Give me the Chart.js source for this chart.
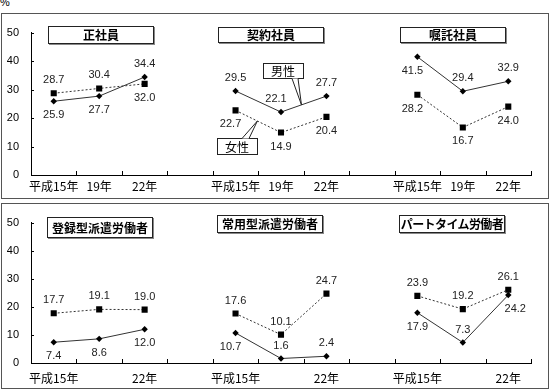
<!DOCTYPE html>
<html>
<head>
<meta charset="utf-8">
<script src="https://cdn.jsdelivr.net/npm/chart.js@4/dist/chart.umd.min.js"></script>
<style>
  body { margin: 0; width: 550px; height: 389px; background: #fff; position: relative; overflow: hidden; font-family: "Liberation Sans", Arial, sans-serif; }
  .panel { position: absolute; left: 1px; width: 546px; height: 184px; border: 1px solid #555; }
  .panel canvas { position: absolute; left: 0; top: 0; }
  .title { position: absolute; width: 104px; border: 1px solid #222; box-shadow: 1px 1px 0 #888; background: #fff; white-space: nowrap; overflow: hidden;
           font-family: "Noto Sans CJK JP", sans-serif; font-size: 12px; font-weight: bold; text-align: center; color: #000; }
  .title.long { letter-spacing: -0.6px; }
  #pct { position: absolute; left: 0; top: -4px; font-size: 11px; color: #000; }
</style>
</head>
<body>
<span id="pct">%</span>
<div class="panel" style="top:13px"><canvas id="topChart" width="546" height="184"></canvas></div>
<div class="panel" style="top:203px"><canvas id="bottomChart" width="546" height="184"></canvas></div>

<div class="title" style="left:48px;top:26px;height:16px;line-height:16px">正社員</div>
<div class="title" style="left:218px;top:27px;height:14px;line-height:14px">契約社員</div>
<div class="title" style="left:400px;top:27px;height:14px;line-height:14px">嘱託社員</div>
<div class="title" style="left:47px;top:217px;height:19px;line-height:19px">登録型派遣労働者</div>
<div class="title" style="left:217px;top:215px;height:16px;line-height:16px">常用型派遣労働者</div>
<div class="title long" style="left:399px;top:215px;height:16px;line-height:16px">パートタイム労働者</div>

<script>
const years = ['平成15年', '19年', '22年'];
const topGroups = ['正社員', '契約社員', '嘱託社員'];
const bottomGroups = ['登録型派遣労働者', '常用型派遣労働者', 'パートタイム労働者'];

const topMale = [25.9, 27.7, 34.4, 29.5, 22.1, 27.7, 41.5, 29.4, 32.9];
const topFemale = [28.7, 30.4, 32.0, 22.7, 14.9, 20.4, 28.2, 16.7, 24.0];
const bottomMale = [7.4, 8.6, 12.0, 10.7, 1.6, 2.4, 17.9, 7.3, 24.2];
const bottomFemale = [17.7, 19.1, 19.0, 17.6, 10.1, 24.7, 23.9, 19.2, 26.1];

const yTicks = [0, 10, 20, 30, 40, 50];

// where each value label sits: a = above, b = below, l/r = nudged left/right
const topMalePos = ['b', 'b', 'a', 'a', 'al', 'a', 'bl', 'a', 'a'];
const topFemalePos = ['a', 'a', 'b', 'bl', 'b', 'b', 'bl', 'b', 'b'];
const bottomMalePos = ['b', 'b', 'b', 'bl', 'a', 'a', 'b', 'a', 'br'];
const bottomFemalePos = ['a', 'a', 'a', 'a', 'a', 'a', 'a', 'a', 'a'];

// 3 groups of 3 years with an empty slot between groups
function spread(vals) {
    return [vals[0], vals[1], vals[2], null, vals[3], vals[4], vals[5], null, vals[6], vals[7], vals[8]];
}
const categories = spread(years.concat(years, years)).map(v => v || '');

const valueLabels = {
    id: 'valueLabels',
    afterDatasetsDraw(chart) {
        const ctx = chart.ctx;
        ctx.save();
        ctx.font = '11px "Liberation Sans", Arial, sans-serif';
        ctx.fillStyle = '#222';
        ctx.textAlign = 'center';
        ctx.textBaseline = 'middle';
        chart.data.datasets.forEach((ds, di) => {
            const meta = chart.getDatasetMeta(di);
            let k = 0;
            ds.data.forEach((v, i) => {
                if (v === null) return;
                const pos = ds.labelPos[k++];
                const pt = meta.data[i];
                let dy = pos[0] === 'a' ? -13 : 14;
                let dx = pos.includes('l') ? -5 : pos.includes('r') ? 7 : 0;
                ctx.fillText(v.toFixed(1), pt.x + dx, pt.y + dy);
            });
        });
        ctx.restore();
    }
};

const innerTicks = {
    id: 'innerTicks',
    afterDraw(chart) {
        const ctx = chart.ctx;
        const x = chart.scales.x, y = chart.scales.y;
        const a = chart.chartArea;
        const half = (x.getPixelForValue(1) - x.getPixelForValue(0)) / 2;
        ctx.save();
        ctx.strokeStyle = '#000';
        ctx.lineWidth = 1;
        ctx.beginPath();
        for (let i = 0; i < categories.length; i++) {
            const px = Math.round(x.getPixelForValue(i) + half) + 0.5;
            ctx.moveTo(px, a.bottom);
            ctx.lineTo(px, a.bottom - 4);
        }
        yTicks.forEach(t => {
            const py = Math.round(y.getPixelForValue(t)) + 0.5;
            ctx.moveTo(a.left, py);
            ctx.lineTo(a.left + 3, py);
        });
        ctx.stroke();
        ctx.restore();
    }
};

function drawCallout(ctx, text, box, base, tip) {
    ctx.save();
    ctx.strokeStyle = '#222';
    ctx.lineWidth = 1;
    ctx.fillStyle = '#999';
    ctx.fillRect(box[0] + 1, box[1] + 1, box[2], box[3]);
    ctx.fillStyle = '#fff';
    ctx.fillRect(box[0], box[1], box[2], box[3]);
    ctx.strokeRect(box[0] + 0.5, box[1] + 0.5, box[2], box[3]);
    ctx.beginPath();
    ctx.moveTo(base[0], base[1]);
    ctx.lineTo(tip[0], tip[1]);
    ctx.lineTo(base[2], base[3]);
    ctx.closePath();
    ctx.fill();
    ctx.beginPath();
    ctx.moveTo(base[0], base[1]);
    ctx.lineTo(tip[0], tip[1]);
    ctx.lineTo(base[2], base[3]);
    ctx.stroke();
    ctx.fillStyle = '#000';
    ctx.font = '12px "Noto Sans CJK JP", sans-serif';
    ctx.textAlign = 'center';
    ctx.textBaseline = 'middle';
    ctx.fillText(text, box[0] + box[2] / 2, box[1] + box[3] / 2 + 1);
    ctx.restore();
}

function pointOnSegment(chart, di, i, f) {
    const m = chart.getDatasetMeta(di).data;
    return [m[i].x + (m[i + 1].x - m[i].x) * f, m[i].y + (m[i + 1].y - m[i].y) * f];
}

const sexCallouts = {
    id: 'sexCallouts',
    afterDraw(chart) {
        const ctx = chart.ctx;
        const mTip = pointOnSegment(chart, 0, 5, 0.45);
        drawCallout(ctx, '男性', [261, 49, 40, 15], [290, 64.5, 296, 64.5], mTip);
        const fTip = pointOnSegment(chart, 1, 4, 0.48);
        drawCallout(ctx, '女性', [215, 124, 40, 16], [240, 124.5, 247, 124.5], fTip);
    }
};

function makeChart(id, male, female, malePos, femalePos, opts) {
    const plugins = [valueLabels, innerTicks];
    if (opts.callouts) plugins.push(sexCallouts);
    return new Chart(document.getElementById(id), {
        type: 'line',
        data: {
            labels: categories,
            datasets: [{
                label: '男性',
                data: spread(male),
                labelPos: malePos,
                borderColor: '#333',
                borderWidth: 1,
                pointStyle: 'rectRot',
                pointRadius: 3.2,
                pointBackgroundColor: '#000',
                pointBorderColor: '#000',
                pointBorderWidth: 0,
                spanGaps: false
            }, {
                label: '女性',
                data: spread(female),
                labelPos: femalePos,
                borderColor: '#333',
                borderWidth: 1,
                borderDash: [2, 2],
                pointStyle: 'rect',
                pointRadius: 4.3,
                pointBackgroundColor: '#000',
                pointBorderColor: '#000',
                pointBorderWidth: 0,
                spanGaps: false
            }]
        },
        options: {
            responsive: false,
            animation: false,
            events: [],
            layout: { padding: { left: 0, right: 17, top: opts.top, bottom: 0 } },
            plugins: { legend: { display: false }, tooltip: { enabled: false } },
            scales: {
                x: {
                    offset: true,
                    grid: { display: false, drawTicks: false },
                    border: { display: true, color: '#000', width: 1 },
                    afterFit: s => { s.height = opts.xHeight; },
                    ticks: {
                        autoSkip: false,
                        maxRotation: 0,
                        padding: opts.xPad,
                        color: '#000',
                        font: { family: '"Noto Sans CJK JP", sans-serif', size: 12 },
                        callback: (v, i) => opts.showAll || i % 2 === 0 ? categories[i] : ''
                    }
                },
                y: {
                    min: 0,
                    max: 50,
                    grid: { display: false, drawTicks: false },
                    border: { display: true, color: '#000', width: 1 },
                    afterFit: s => { s.width = 29; },
                    ticks: {
                        stepSize: 10,
                        padding: 12,
                        color: '#000',
                        font: { family: '"Liberation Sans", Arial, sans-serif', size: 11 }
                    }
                }
            }
        },
        plugins: plugins
    });
}

makeChart('topChart', topMale, topFemale, topMalePos, topFemalePos,
    { top: 12, xHeight: 23, xPad: 4, showAll: true, callouts: true });
makeChart('bottomChart', bottomMale, bottomFemale, bottomMalePos, bottomFemalePos,
    { top: 13, xHeight: 25, xPad: 8, showAll: false, callouts: false });
</script>
</body>
</html>
